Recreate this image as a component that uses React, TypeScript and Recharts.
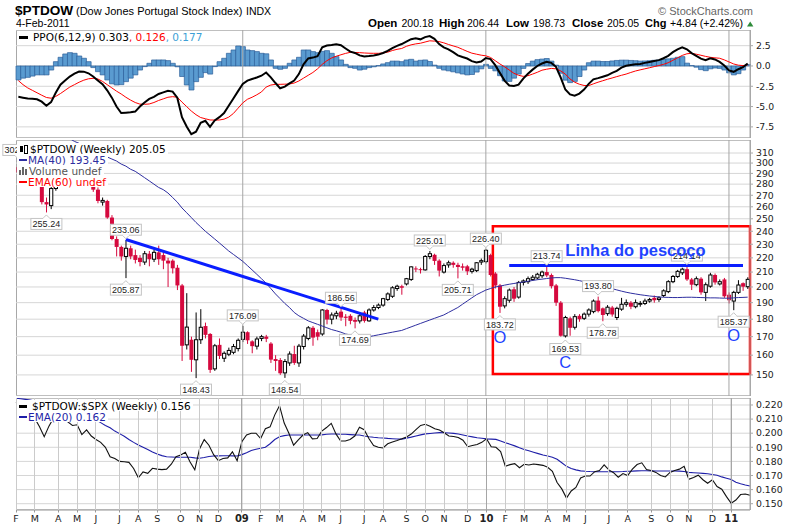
import React from 'react';
import {
  ComposedChart, Bar, Line, XAxis, YAxis, CartesianGrid,
  ReferenceLine, ReferenceArea, ReferenceDot,
} from 'recharts';

// ---------- data ----------
const weeks: number[] = Array.from({ length: 157 }, (_, i) => i);

// weekly candles [open, high, low, close], Feb-2008 .. 4-Feb-2011
const weeklyOHLC: [number, number, number, number][] = [
  [296,302.5,288,291],[291,299,287,297],[297,300,285,287],[287,294,283,290],[290,293,282,285],
  [284,286,262,264],[264,268,255.24,262],[261,280,258,276],[276,290,274,287],[287,293,284,291],
  [291,296,287,294],[294,299,290,296],[296,300,291,293],[293,298,289,295],[295,297,286,288],
  [288,291,283,285],[285,287,273,275],[275,277,263,265],[264,268,261,265.5],[265,266,250,251],
  [251,253,233,234],[234,236,221,228],[228,229,218,221],[221,233.06,205.87,227],[227,229,219,221],
  [222,226,216,218.5],[220,222,214,217],[217,225,215,223],[223,225,214,219],[219,226,217,224],
  [224,229,215,219],[222,224,212,218],[218,220,200,216],[218,219,209,212.6],[213,215,198,201],
  [201,202,157,165],[165.5,196,163,175.4],[168.3,170,151.5,157.6],[157.6,184,148.43,168.3],[168.3,186,166,175.3],
  [176,178,169,171],[171.5,172,151,152.5],[153,166,152,165],[165.5,169,158,159.6],[158.4,162,156.5,161],
  [160.5,164,159.5,162.5],[161.5,166,160.5,164.6],[163.5,169,162,168],[168.5,176.09,167,172.5],[172.5,173,166,168],
  [167.4,168,161,164.8],[164.8,170,163,168.7],[169,171,167.5,170],[170,171,167,168.8],[166.2,167,156,157.7],
  [158,160,152,157],[157.5,158.5,150,150.8],[151,158,148.54,156.7],[156,162,154.5,160.6],[160.6,165,155,156],
  [156,166,154,164.8],[164.6,171.5,163,170.3],[169,176,168,175],[175,176,165,169.5],[172.5,174,168,170],
  [171.5,186,170.5,185.5],[185.5,186.2,177,179.8],[180,184,177,182.5],[182,185,180,183.5],[184.5,186.56,179,181],
  [181.5,183,175.9,180.8],[182,183,177,179],[179.5,181,174.69,178.5],[179,183,177.5,182],[184,185,178,179],
  [179,186.5,178.5,185.5],[185.5,188.5,184.5,187],[187,189.5,186,188.5],[188.5,193,187.5,192.5],[192,196.5,191,195.5],
  [194,200.5,193,199.5],[199,201.5,197.5,200.5],[200.5,201.5,195,199.5],[202,206,201,205.5],[205,214,204,213.6],
  [212.5,214,210,212],[212,213,209,211.5],[211.5,222,211,221],[221,225.01,219,223],[222.2,223,215,217.8],
  [218,219,207,211],[210,216,209,214.5],[215,218,213,216.5],[216.5,217.5,213,215],[215,216.5,205.71,213.5],
  [214,216,211,213],[214,215,208,210.5],[210.5,213,209,212],[211,217,210,216.5],[217,219.5,215,218],
  [217.3,226.4,216,225.5],[222,223,207,208],[209,210,199,201],[201,202,183.72,187.5],[188,194,186.5,192.5],
  [191.5,199,190,198],[198.5,200,190.5,192.5],[193.5,204,192.5,203],[203,205,201,204],[203.5,207,202,205.5],
  [205,208,204,206.5],[206,209.5,205,208.5],[207.5,211,206,210],[210,213.74,206.5,207.7],[208,209,199,200.5],
  [201,202,188,190],[190,191,170,170.5],[170.4,182,169.53,181],[180.5,181.5,170.5,175],[175.3,183,174,181.5],
  [182,183,178.5,180],[180.5,184,179.5,183],[183,186.5,181.5,185.5],[184.5,192,183.5,191],[191.3,193.8,184,184.8],
  [186.5,187,178.78,182.5],[183.3,188.5,182,187.2],[187,188,181.5,182.8],[181,187.5,179.5,186.5],[186,193,185,189],
  [189,192,187.5,190],[190,191,186,187.5],[187.5,192,186.5,190],[189,191,187.5,189.5],[189.5,192.5,188.5,191],
  [191,193,190,192],[193,194.5,190,191.5],[192,194,190.5,193],[194.5,198.5,193.5,197.5],[197,204.5,196,203.5],
  [203.5,208,202.5,207],[207,211.5,206,210.5],[209.5,213,208,212],[212,214.14,204,205],[205,206,198,201.5],
  [201.5,207,200.5,205.5],[205.5,206.5,195,196.5],[196.5,203,191,201.5],[200.5,209.5,199.5,208],[208,209,201.5,203],
  [202,205,201,203.5],[205,206,193,194],[195,196.5,189.5,191.5],[191,197.5,185.37,196.5],[196.5,204.5,195.5,201.3],
  [202.5,203,197.5,200.21],[200.18,206.44,198.73,205.05],
];

const ma40: number[] = [
  345,344,343,341,339,337,335,333,331,329,
  327,325,322,320,317,315,312,310,308,306,
  304,302,299,297,294,292,289,286,283,280,
  277,275,272,268,264,259,255,251,247,243.5,
  240,237,234,231,228,225,222.5,220,217.5,214.5,
  211.5,208.5,205.5,202.5,199,195.5,192.5,189.5,187,184,
  182,180.5,179,178,177,176,175,174,173.3,172.5,
  171.5,171,170.5,170.2,170,170,170.5,171,171.5,172,
  172.5,173,173.5,174.5,175.5,176.5,177.5,178.5,179.5,180.5,
  181.5,182.5,184,185.5,187,189,191,193,195,196.5,
  198,199,200,200.5,201.2,201.8,202.3,202.8,203.3,203.8,
  204.3,204.8,205.2,205.6,206,206.2,206.2,205.8,205.3,204.8,
  204.2,203.5,202.8,202,201.3,200.5,199.7,198.9,198.1,197.3,
  196.6,196,195.5,195,194.6,194.2,193.9,193.6,193.4,193.3,
  193.2,193.2,193.3,193.4,193.4,193.3,193.2,193.1,193,193,
  192.9,192.8,192.8,193,193.2,193.3,193.45,
];

const ppoLine: number[] = [
  -3.8,-3.9,-4.0,-4.05,-4.1,-4.4,-4.9,-4.45,-3.3,-2.3,
  -1.8,-1.3,-0.95,-0.68,-0.7,-0.9,-1.3,-1.8,-2.25,-3.0,
  -3.9,-5.0,-5.8,-5.75,-5.7,-5.62,-5.0,-4.5,-4.05,-3.8,
  -3.45,-3.25,-3.05,-3.15,-3.9,-6.3,-7.45,-8.4,-8.1,-7.0,
  -6.75,-7.5,-6.7,-6.3,-5.8,-4.9,-4.0,-3.1,-2.2,-1.8,
  -1.6,-1.42,-1.2,-0.8,-1.4,-2.1,-2.75,-2.55,-2.15,-1.8,
  -1.0,0.2,0.93,1.03,1.2,2.3,2.52,2.58,2.68,2.55,
  2.15,1.76,1.6,1.3,1.16,1.22,1.3,1.4,1.6,1.85,
  2.2,2.47,2.7,3.0,3.3,3.4,3.28,3.55,3.68,3.35,
  2.7,2.3,2.05,1.7,1.3,1.1,0.92,0.6,0.42,0.55,
  0.98,0.85,0.1,-0.85,-1.8,-2.4,-2.46,-2.3,-1.55,-0.95,
  -0.45,0.0,0.3,0.52,0.38,-0.1,-1.4,-2.9,-3.5,-3.65,
  -3.4,-2.9,-2.2,-1.65,-1.5,-1.33,-1.15,-0.85,-0.6,-0.2,
  0.02,0.13,0.2,0.25,0.38,0.5,0.62,0.72,0.95,1.25,
  1.7,2.05,2.3,2.05,1.58,1.25,0.9,0.7,0.95,0.8,
  0.5,0.05,-0.55,-0.72,-0.4,-0.15,0.303,
];

const ppoSignal: number[] = [
  -1.8,-2.3,-2.7,-3.0,-3.3,-3.6,-3.88,-3.97,-3.75,-3.4,
  -3.0,-2.6,-2.3,-2.0,-1.75,-1.58,-1.52,-1.6,-1.9,-2.3,
  -2.7,-3.1,-3.45,-3.85,-4.2,-4.5,-4.7,-4.72,-4.68,-4.5,
  -4.25,-4.05,-3.85,-3.78,-3.85,-4.45,-5.0,-5.55,-6.0,-6.35,
  -6.5,-6.65,-6.66,-6.65,-6.55,-6.3,-5.85,-5.2,-4.55,-4.1,
  -3.85,-3.55,-3.2,-2.6,-2.35,-2.26,-2.26,-2.24,-2.22,-2.1,
  -1.85,-1.5,-1.15,-0.8,-0.35,0.2,0.65,0.98,1.2,1.38,
  1.55,1.68,1.66,1.64,1.6,1.57,1.56,1.56,1.6,1.7,
  1.9,2.05,2.15,2.42,2.6,2.72,2.8,2.95,3.1,3.06,
  3.0,2.85,2.65,2.47,2.3,2.05,1.8,1.58,1.45,1.33,
  1.25,1.05,0.65,0.25,-0.1,-0.5,-0.9,-1.15,-1.28,-1.2,
  -1.0,-0.78,-0.52,-0.4,-0.3,-0.35,-0.6,-1.0,-1.6,-2.0,
  -2.25,-2.4,-2.42,-2.2,-2.0,-1.82,-1.64,-1.48,-1.31,-1.15,
  -1.0,-0.8,-0.62,-0.48,-0.35,-0.22,-0.08,0.05,0.2,0.4,
  0.7,1.0,1.3,1.5,1.56,1.45,1.32,1.18,1.07,1.0,
  0.95,0.75,0.5,0.25,0.1,0.05,0.126,
];

const ppoHist: number[] = [
  -1.72,-1.5,-1.4,-1.25,-1.1,-1.1,-1.1,-0.5,0.53,1.07,
  1.48,1.64,1.56,1.23,0.95,0.53,-0.2,-0.7,-1.1,-1.72,
  -2.2,-2.34,-2.3,-1.93,-1.5,-1.1,-0.5,-0.08,0.33,0.74,
  0.74,0.74,0.66,0.33,-0.1,-1.3,-2.34,-2.96,-1.93,-1.4,
  -0.82,-1.0,-0.08,0.53,0.95,1.56,1.97,2.46,2.38,1.97,
  1.89,1.77,1.56,1.5,0.74,-0.29,-0.41,-0.29,0.33,0.74,
  1.07,1.97,1.97,1.77,1.64,1.8,1.89,1.56,1.15,0.74,
  0.2,-0.2,-0.29,-0.5,-0.4,-0.2,-0.1,0.05,0.25,0.41,
  0.6,0.6,0.53,0.74,0.82,0.6,0.7,0.74,0.55,0.1,
  -0.29,-0.5,-0.6,-0.72,-0.85,-0.99,-1.1,-1.05,-0.75,-0.35,
  0.2,-0.3,-0.6,-1.2,-1.85,-1.9,-1.5,-1.0,-0.3,0.3,
  0.6,0.78,0.85,0.92,0.6,0.1,-0.9,-1.75,-2.05,-1.9,
  -1.3,-0.5,0.4,0.6,0.6,0.55,0.55,0.62,0.68,0.72,
  0.72,0.68,0.65,0.6,0.62,0.65,0.7,0.74,0.8,0.88,
  0.95,1.07,1.15,0.35,0.05,-0.15,-0.45,-0.58,-0.35,-0.25,
  -0.3,-0.5,-0.85,-1.1,-0.95,-0.5,0.177,
];

const ratioLine: number[] = [
  0.222,0.219,0.216,0.213,0.2105,0.2045,0.1975,0.205,0.211,0.2153,
  0.211,0.208,0.2055,0.206,0.199,0.2023,0.198,0.1955,0.1935,0.19,
  0.1833,0.182,0.18,0.1798,0.1793,0.175,0.1684,0.1725,0.1715,0.1751,
  0.1745,0.1742,0.1745,0.178,0.1833,0.1845,0.1865,0.1795,0.174,0.1888,
  0.1955,0.1915,0.1848,0.1805,0.182,0.1825,0.1868,0.1805,0.194,0.1988,
  0.2,0.2,0.1962,0.2032,0.2045,0.213,0.2195,0.2072,0.2,0.1915,
  0.1952,0.1987,0.2004,0.196,0.1962,0.2015,0.204,0.207,0.1995,0.1945,
  0.1945,0.1955,0.198,0.2042,0.2025,0.1962,0.1912,0.19,0.1895,0.1925,
  0.1938,0.1948,0.196,0.1973,0.1994,0.2025,0.2055,0.2063,0.205,0.2032,
  0.2022,0.2003,0.198,0.1977,0.197,0.195,0.1904,0.1913,0.192,0.1935,
  0.196,0.1904,0.19,0.187,0.1765,0.1777,0.1784,0.1755,0.178,0.1775,
  0.1782,0.1777,0.1772,0.1758,0.173,0.165,0.1605,0.154,0.159,0.1615,
  0.1682,0.1696,0.1696,0.1727,0.1735,0.1775,0.174,0.172,0.1688,0.1714,
  0.17,0.1745,0.1778,0.179,0.1742,0.1735,0.1722,0.17,0.169,0.1722,
  0.1735,0.1745,0.1765,0.1673,0.1686,0.1702,0.167,0.1645,0.167,0.1622,
  0.1603,0.155,0.1503,0.1526,0.1565,0.1569,0.156,
];

const ratioEma20: number[] = [
  0.2248,0.2244,0.224,0.2235,0.2228,0.2215,0.2202,0.219,0.218,0.2172,
  0.2163,0.2153,0.2143,0.2132,0.212,0.2108,0.21,0.2093,0.2075,0.2055,
  0.2038,0.2015,0.1997,0.1978,0.1955,0.1935,0.1916,0.19,0.1884,0.1867,
  0.1853,0.1841,0.1833,0.1831,0.1829,0.1829,0.1829,0.1829,0.1825,0.1822,
  0.1828,0.1835,0.1838,0.1839,0.184,0.184,0.1839,0.1838,0.1848,0.1862,
  0.1878,0.1886,0.1893,0.19,0.1925,0.1955,0.1975,0.1983,0.1987,0.1987,
  0.1987,0.1987,0.1987,0.1987,0.1987,0.1988,0.1992,0.1994,0.1994,0.1993,
  0.1992,0.199,0.1988,0.1987,0.198,0.1975,0.1971,0.1968,0.1966,0.1963,
  0.1961,0.1959,0.1958,0.1965,0.1972,0.198,0.1988,0.1995,0.1998,0.2001,
  0.2004,0.2003,0.2001,0.1999,0.1994,0.1987,0.198,0.1974,0.1968,0.1964,
  0.196,0.1958,0.1956,0.1945,0.1932,0.1922,0.191,0.1897,0.1885,0.1875,
  0.1865,0.1855,0.1845,0.1838,0.183,0.1815,0.179,0.1765,0.175,0.174,
  0.1733,0.173,0.1728,0.1727,0.1727,0.1727,0.1727,0.1727,0.1727,0.1728,
  0.173,0.1731,0.1733,0.1734,0.1734,0.1733,0.1732,0.1732,0.1732,0.1732,
  0.1732,0.1731,0.1728,0.1722,0.172,0.1718,0.1715,0.1712,0.1707,0.1702,
  0.169,0.1681,0.1672,0.1652,0.1642,0.1633,0.1626,
];

const monthTicks: number[] = [0,4,9,13,17,22,26,30,35,39,43,48,52,56,61,65,69,74,78,83,87,91,96,100,104,108,113,117,121,126,130,135,139,143,148,152];
const monthLabels: string[] = ['F','M','A','M','J','J','A','S','O','N','D','09','F','M','A','M','J','J','A','S','O','N','D','10','F','M','A','M','J','J','A','S','O','N','D','11'];
const yearTicks: number[] = [48, 100, 152];

const ppoTicks: number[] = [-7.5, -5, -2.5, 0, 2.5];
const priceTicks: number[] = [150,160,170,180,190,200,210,220,230,240,250,260,270,280,290,300,310];
const ratioTicks: number[] = [0.15,0.16,0.17,0.18,0.19,0.2,0.21,0.22];

const priceTags: { i: number; v: number; text: string; above: boolean }[] = [
  { i: 0, v: 302.55, text: '302.55', above: true },
  { i: 6, v: 255.24, text: '255.24', above: false },
  { i: 23, v: 233.06, text: '233.06', above: true },
  { i: 23, v: 205.87, text: '205.87', above: false },
  { i: 38, v: 148.43, text: '148.43', above: false },
  { i: 48, v: 176.09, text: '176.09', above: true },
  { i: 57, v: 148.54, text: '148.54', above: false },
  { i: 69, v: 186.56, text: '186.56', above: true },
  { i: 72, v: 174.69, text: '174.69', above: false },
  { i: 88, v: 225.01, text: '225.01', above: true },
  { i: 94, v: 205.71, text: '205.71', above: false },
  { i: 100, v: 226.4, text: '226.40', above: true },
  { i: 103, v: 183.72, text: '183.72', above: false },
  { i: 113, v: 213.74, text: '213.74', above: true },
  { i: 117, v: 169.53, text: '169.53', above: false },
  { i: 124, v: 193.8, text: '193.80', above: true },
  { i: 125, v: 178.78, text: '178.78', above: false },
  { i: 143, v: 214.14, text: '214.14', above: true },
  { i: 153, v: 185.37, text: '185.37', above: false },
];

const trendLine = [{ x: 23, y: 233.6 }, { x: 77, y: 180 }];
const neckLine = [{ x: 105, y: 214.5 }, { x: 155, y: 214.5 }];
const patternBox = { x1: 102, x2: 156, y1: 150.5, y2: 244 };

const annotations: { i: number; v: number; text: string; dy: number; bold: boolean }[] = [
  { i: 132, v: 214.5, text: 'Linha do pescoço', dy: -9.5, bold: true },
  { i: 103, v: 183.72, text: 'O', dy: 30, bold: false },
  { i: 117, v: 169.53, text: 'C', dy: 30, bold: false },
  { i: 153, v: 185.37, text: 'O', dy: 31, bold: false },
];

const rows = weeks.map((i) => {
  const [o, h, l, c] = weeklyOHLC[i];
  return {
    i, o, h, l, c, range: [l, h],
    ma: ma40[i], ppo: ppoLine[i], sig: ppoSignal[i], hist: ppoHist[i],
    ratio: ratioLine[i], rema: ratioEma20[i],
  };
});

// ---------- styles ----------
const FONT = "'DejaVu Sans', Verdana, sans-serif";
const AR = "'Liberation Sans', Arial, Helvetica, sans-serif";
const GRID = '#d6d6d6';
const VGRID = '#cbcbcb';
const YEARGRID = '#a6a6a6';
const CANDLE_RED = '#d5093e';
const TREND = '#0a1eff';
const ANNOT = '#1f43ff';

// vertical month grid positions taken from the axis scale
const monthGridX = (p: any): number[] => {
  try {
    const s = p && p.xAxis && p.xAxis.scale;
    if (typeof s !== 'function') return [];
    const bw = typeof s.bandwidth === 'function' ? s.bandwidth() : 0;
    return monthTicks
      .filter((t) => !yearTicks.includes(t))
      .map((t) => Math.floor(s(t) + bw / 2) + 0.5)
      .filter((v) => isFinite(v));
  } catch (e) {
    return [];
  }
};

const Candle = (props: any) => {
  const { x, y, width, height, payload } = props;
  if (!payload || !isFinite(y) || !isFinite(height)) return null;
  const { o, h, l, c } = payload;
  const lh = Math.log(h), ll = Math.log(l);
  const py = (v: number) => y + ((lh - Math.log(v)) / (lh - ll || 1)) * height;
  const cx = x + width / 2;
  const up = c >= o;
  const col = up ? '#000' : CANDLE_RED;
  const top = py(Math.max(o, c));
  const bot = py(Math.min(o, c));
  return (
    <g>
      <line x1={cx} x2={cx} y1={y} y2={y + height} stroke={col} strokeWidth={1} />
      {up ? (
        <rect x={cx - 1.6} y={top} width={3.2} height={Math.max(bot - top, 0.8)} fill="#fff" stroke="#000" strokeWidth={1} />
      ) : (
        <rect x={cx - 2} y={top} width={4} height={Math.max(bot - top, 1)} fill={col} />
      )}
    </g>
  );
};

const PriceTag = (props: any) => {
  const { cx, cy, text, above } = props;
  if (!isFinite(cx) || !isFinite(cy)) return null;
  const w = 31, h = 11;
  const top = above ? cy - 5 - h : cy + 6;
  const base = above ? top + h : top;
  const tip = above ? cy - 1.5 : cy + 2.5;
  return (
    <g>
      <rect x={cx - w / 2} y={top} width={w} height={h} fill="#fff" stroke="#c4c4c4" strokeWidth={1} />
      <path d={`M${cx - 3.5},${base} L${cx},${tip} L${cx + 3.5},${base}`} fill="#fff" stroke="#c4c4c4" strokeWidth={1} />
      <line x1={cx - 3} x2={cx + 3} y1={base} y2={base} stroke="#fff" strokeWidth={1.2} />
      <text x={cx} y={top + h - 2.3} textAnchor="middle" fontSize={9} fontFamily={AR} fill="#222">{text}</text>
    </g>
  );
};

const Annot = (props: any) => {
  const { cx, cy, text, dy, bold } = props;
  if (!isFinite(cx) || !isFinite(cy)) return null;
  return (
    <text x={cx} y={cy + dy} textAnchor="middle" fontSize={16.5} fontWeight={bold ? 'bold' : 'normal'} fontFamily={AR} fill={ANNOT}>{text}</text>
  );
};

// month grid rule drawn from the x-axis tick position upward over the plot height
const GridTick = (props: any) => {
  const { x, y, payload, ph } = props;
  if (!isFinite(x) || !isFinite(y)) return null;
  const isYear = yearTicks.includes(payload.value);
  const xx = Math.floor(x) + 0.5;
  return <line x1={xx} x2={xx} y1={y} y2={y - ph} stroke={isYear ? YEARGRID : VGRID} strokeWidth={1} />;
};

const MonthTick = (props: any) => {
  const { x, y, payload, ph } = props;
  if (!isFinite(x) || !isFinite(y)) return null;
  const k = monthTicks.indexOf(payload.value);
  if (k < 0) return null;
  const label = monthLabels[k];
  const isYear = /\d/.test(label);
  const xx = Math.floor(x) + 0.5;
  return (
    <g>
      <line x1={xx} x2={xx} y1={y} y2={y - ph} stroke={isYear ? YEARGRID : VGRID} strokeWidth={1} />
      <line x1={xx} x2={xx} y1={y} y2={y + 2.5} stroke="#999" strokeWidth={1} />
      <text x={x} y={y + 11.5} textAnchor="middle" fontSize={isYear ? 10 : 9.5} fontWeight={isYear ? 'bold' : 'normal'} fontFamily={FONT} fill="#222">{label}</text>
    </g>
  );
};

const yTick = { fontSize: 9.3, fill: '#222', fontFamily: FONT };
const MARGIN = { top: 0, right: 0, bottom: 0, left: 16 };

const PanelBox = ({ top, height }: { top: number; height: number }) => (
  <div style={{ position: 'absolute', left: 16, top, width: 735, height, border: '1px solid #a8a8a8', boxSizing: 'border-box' }} />
);

const LegendLine = ({ color, w = 9, h = 3, mr = 4 }: { color: string; w?: number; h?: number; mr?: number }) => (
  <span style={{ display: 'inline-block', width: w, height: h, background: color, verticalAlign: 'middle', marginRight: mr, marginBottom: 2 }} />
);

const legendRow = (top: number, extra: React.CSSProperties = {}): React.CSSProperties => ({
  position: 'absolute', left: 17, top, height: 10.5, lineHeight: '10.5px', background: '#fff',
  font: `10.5px ${FONT}`, whiteSpace: 'nowrap', paddingLeft: 2, paddingRight: 2, color: '#000', ...extra,
});

const yearLines = () => yearTicks.map((t) => (
  <ReferenceLine key={'y' + t} x={t} stroke={YEARGRID} strokeWidth={1} ifOverflow="visible" />
));

const gridAxis = (ph: number) => (
  <XAxis dataKey="i" type="category" ticks={monthTicks} interval={0} height={0}
    tickSize={0} tickMargin={0} tickLine={false} axisLine={false} tick={<GridTick ph={ph} />} />
);

const grid = () => (
  <CartesianGrid stroke={GRID} vertical horizontal verticalCoordinatesGenerator={monthGridX} />
);

export default function App() {
  return (
    <div style={{ position: 'absolute', left: 0, top: 0, width: 800, height: 528, background: '#fff', overflow: 'hidden', fontFamily: AR }}>
      {/* header */}
      <svg width={800} height={30} style={{ position: 'absolute', left: 0, top: 0 }}>
        <text x={15} y={15} fontFamily={AR} fontSize={13.6} fontWeight="bold" fill="#000">$PTDOW</text>
        <text x={76} y={15} fontFamily={AR} fontSize={11} fill="#000">(Dow Jones Portugal Stock Index)</text>
        <text x={246} y={15} fontFamily={AR} fontSize={10.5} fill="#000">INDX</text>
        <text x={16} y={27} fontFamily={AR} fontSize={10.5} fill="#000">4-Feb-2011</text>
        <text x={753} y={14.5} textAnchor="end" fontFamily={AR} fontSize={11} fill="#666">© StockCharts.com</text>
        <text x={368} y={27.3} fontFamily={AR} fontSize={11.5} fontWeight="bold">Open</text>
        <text x={401.5} y={27.3} fontFamily={AR} fontSize={10.5}>200.18</text>
        <text x={439} y={27.3} fontFamily={AR} fontSize={11.5} fontWeight="bold">High</text>
        <text x={467} y={27.3} fontFamily={AR} fontSize={10.5}>206.44</text>
        <text x={506} y={27.3} fontFamily={AR} fontSize={11.5} fontWeight="bold">Low</text>
        <text x={533} y={27.3} fontFamily={AR} fontSize={10.5}>198.73</text>
        <text x={572} y={27.3} fontFamily={AR} fontSize={11.5} fontWeight="bold">Close</text>
        <text x={607} y={27.3} fontFamily={AR} fontSize={10.5}>205.05</text>
        <text x={645} y={27.3} fontFamily={AR} fontSize={11} fontWeight="bold">Chg</text>
        <text x={670} y={27.3} fontFamily={AR} fontSize={10.6}>+4.84 (+2.42%)</text>
        <path d="M747,26.5 L750.2,21.5 L753.4,26.5 Z" fill="#2e8b3a" />
      </svg>

      <PanelBox top={30} height={108} />
      <PanelBox top={140} height={256} />
      <PanelBox top={398} height={112} />

      {/* PPO panel */}
      <div style={{ position: 'absolute', left: 0, top: 30 }}>
        <ComposedChart width={800} height={108} data={rows} margin={MARGIN} barCategoryGap={0} barGap={0}>
          {grid()}
          {gridAxis(108)}
          <YAxis orientation="right" type="number" domain={[-8.87, 4.43]} allowDataOverflow ticks={ppoTicks} interval={0}
            tickFormatter={(v: number) => v.toFixed(1)} width={50} tickSize={3} tickMargin={3}
            axisLine={{ stroke: '#a8a8a8' }} tickLine={{ stroke: '#a8a8a8' }} tick={yTick} />
          {yearLines()}
          <Bar dataKey="hist" fill="#5a9bd0" stroke="#2c5f9a" strokeWidth={0.7} isAnimationActive={false} />
          <Line dataKey="sig" stroke="#ff0000" strokeWidth={1} dot={false} isAnimationActive={false} />
          <Line dataKey="ppo" stroke="#000" strokeWidth={2} dot={false} isAnimationActive={false} />
        </ComposedChart>
      </div>

      {/* price panel */}
      <div style={{ position: 'absolute', left: 0, top: 140 }}>
        <ComposedChart width={800} height={256} data={rows} margin={MARGIN}>
          {grid()}
          {gridAxis(256)}
          <YAxis orientation="right" type="number" scale="log" domain={[140, 323.5]} allowDataOverflow ticks={priceTicks} interval={0}
            width={50} tickSize={3} tickMargin={3}
            axisLine={{ stroke: '#a8a8a8' }} tickLine={{ stroke: '#a8a8a8' }} tick={yTick} />
          {yearLines()}
          <Line dataKey="ma" stroke="#2e2ea0" strokeWidth={1} dot={false} isAnimationActive={false} />
          <Bar dataKey="range" shape={(p: any) => <Candle {...p} />} isAnimationActive={false} />
          <ReferenceLine segment={trendLine} stroke={TREND} strokeWidth={3} ifOverflow="visible" />
          {priceTags.map((t, k) => (
            <ReferenceDot key={'t' + k} x={t.i} y={t.v} r={0} ifOverflow="visible"
              shape={(p: any) => <PriceTag {...p} text={t.text} above={t.above} />} />
          ))}
          <ReferenceLine segment={neckLine} stroke={TREND} strokeWidth={3} ifOverflow="visible" />
          <ReferenceArea x1={patternBox.x1} x2={patternBox.x2} y1={patternBox.y1} y2={patternBox.y2}
            fill="none" fillOpacity={0} stroke="#ff0000" strokeWidth={2.5} ifOverflow="visible" />
          {annotations.map((a, k) => (
            <ReferenceDot key={'a' + k} x={a.i} y={a.v} r={0} ifOverflow="visible"
              shape={(p: any) => <Annot {...p} text={a.text} dy={a.dy} bold={a.bold} />} />
          ))}
        </ComposedChart>
      </div>

      {/* ratio panel */}
      <div style={{ position: 'absolute', left: 0, top: 398 }}>
        <ComposedChart width={800} height={134} data={rows} margin={MARGIN}>
          {grid()}
          <XAxis dataKey="i" type="category" ticks={monthTicks} interval={0} height={22}
            tickLine={false} tickSize={0} tickMargin={0} axisLine={{ stroke: '#a8a8a8' }} tick={<MonthTick ph={112} />} />
          <YAxis orientation="right" type="number" domain={[0.14553, 0.22496]} allowDataOverflow ticks={ratioTicks} interval={0}
            tickFormatter={(v: number) => v.toFixed(3)} width={50} tickSize={3} tickMargin={3}
            axisLine={{ stroke: '#a8a8a8' }} tickLine={{ stroke: '#a8a8a8' }} tick={yTick} />
          {yearLines()}
          <Line dataKey="rema" stroke="#1f1fa8" strokeWidth={1.1} dot={false} isAnimationActive={false} />
          <Line dataKey="ratio" stroke="#111" strokeWidth={1.1} dot={false} isAnimationActive={false} />
        </ComposedChart>
      </div>

      {/* legends */}
      <div style={legendRow(31, { height: 12, lineHeight: '12px' })}>
        <LegendLine color="#000" w={9} h={3} mr={5} />PPO(6,12,9) 0.303<span style={{ color: '#ff0000' }}>, 0.126</span><span style={{ color: '#3d9fd6' }}>, 0.177</span>
      </div>

      <div style={legendRow(143)}>
        <span style={{ display: 'inline-block', width: 9, height: 8, marginRight: 2, verticalAlign: 'middle', marginBottom: 2, position: 'relative' }}>
          <span style={{ position: 'absolute', left: 1, top: 1, width: 3, height: 6, background: '#000' }} />
          <span style={{ position: 'absolute', left: 5, top: 0, width: 2, height: 7, border: '1px solid #000', background: '#fff' }} />
        </span>$PTDOW (Weekly) 205.05
      </div>
      <div style={legendRow(154, { color: '#2e2ea0' })}>
        <LegendLine color="#2e2ea0" w={8} h={2.5} mr={1} />MA(40) 193.45
      </div>
      <div style={legendRow(165, { color: '#555' })}>
        <span style={{ display: 'inline-block', width: 9, height: 8, marginRight: 1, verticalAlign: 'middle', marginBottom: 2, position: 'relative' }}>
          <span style={{ position: 'absolute', left: 0, top: 3, width: 2, height: 5, background: '#666' }} />
          <span style={{ position: 'absolute', left: 3, top: 0, width: 2, height: 8, background: '#666' }} />
          <span style={{ position: 'absolute', left: 6, top: 2, width: 2, height: 6, background: '#666' }} />
        </span>Volume undef
      </div>
      <div style={legendRow(176, { color: '#ff0000' })}>
        <LegendLine color="#ff0000" w={8} h={2.5} mr={1} />EMA(60) undef
      </div>

      <div style={legendRow(400)}>
        <LegendLine color="#000" w={8} h={3} mr={5} />$PTDOW:$SPX (Weekly) 0.156
      </div>
      <div style={legendRow(411, { color: '#1f1fa8' })}>
        <LegendLine color="#1f1fa8" w={8} h={2.5} mr={1} />EMA(20) 0.162
      </div>
    </div>
  );
}
